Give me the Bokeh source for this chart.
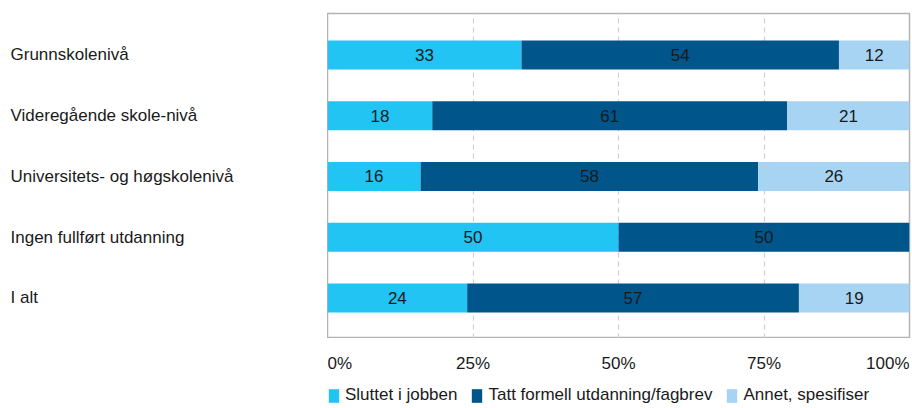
from bokeh.plotting import figure
from bokeh.models import ColumnDataSource, Range1d, Legend, LegendItem, Spacer, FixedTicker, Grid
from bokeh.layouts import column, row
from bokeh.embed import file_html
from bokeh.resources import INLINE
from bokeh.core.properties import value

categories = ["Grunnskolenivå", "Videregående skole-nivå", "Universitets- og høgskolenivå",
              "Ingen fullført utdanning", "I alt"]
series_names = ["Sluttet i jobben", "Tatt formell utdanning/fagbrev", "Annet, spesifiser"]
sluttet = [33, 18, 16, 50, 24]
tatt = [54, 61, 58, 50, 57]
annet = [12, 21, 26, 0, 19]
colors = ["#21C4F3", "#00558A", "#A8D4F4"]
tick_values = [0, 25, 50, 75, 100]
tick_labels = ["0%", "25%", "50%", "75%", "100%"]
tick_align = ["left", "center", "center", "center", "right"]

FONT = "Liberation Sans"
FS = "17px"
TXT = "#1a1a1a"

n = len(categories)
ypos = [n - 1 - i for i in range(n)]
series = [sluttet, tatt, annet]
totals = [sum(s[i] for s in series) for i in range(n)]

y_range = Range1d(-0.667, 4.683)
x_range = Range1d(0, 100)

p = figure(width=585, height=338, x_range=x_range, y_range=y_range,
           output_backend="svg", toolbar_location=None,
           x_axis_location=None, y_axis_location=None,
           min_border_left=0, min_border_right=3, min_border_top=13, min_border_bottom=0)
p.center = []
p.add_layout(Grid(dimension=0, ticker=FixedTicker(ticks=[25, 50, 75]),
                  grid_line_color="#d0d0d0", grid_line_dash="5 4", grid_line_width=1.2))
p.outline_line_color = "#b3b3b3"
p.outline_line_width = 1.5
p.background_fill_color = "white"
p.border_fill_color = "white"

cum = [0.0] * n
for s, c, name in zip(series, colors, series_names):
    left = [cum[i] for i in range(n)]
    right = [cum[i] + s[i] / totals[i] * 100 for i in range(n)]
    cum = right
    src = ColumnDataSource(dict(y=ypos, left=left, right=right))
    p.hbar(y="y", left="left", right="right", height=0.48, source=src,
           fill_color=c, line_color=None)
    idx = [i for i in range(n) if s[i] > 0]
    lsrc = ColumnDataSource(dict(
        x=[(left[i] + right[i]) / 2 for i in idx],
        y=[ypos[i] for i in idx],
        t=[str(s[i]) for i in idx]))
    p.text(x="x", y="y", text="t", source=lsrc, text_align="center",
           text_baseline="middle", text_font=value(FONT), text_font_size=FS,
           text_color=TXT)

# left category labels
lf = figure(width=327, height=338, x_range=Range1d(0, 327), y_range=y_range,
            output_backend="svg", toolbar_location=None,
            x_axis_location=None, y_axis_location=None,
            min_border_left=0, min_border_right=0, min_border_top=13, min_border_bottom=0)
lf.center = []
lf.outline_line_color = None
csrc = ColumnDataSource(dict(x=[0] * n, y=ypos, t=categories))
lf.text(x="x", y="y", text="t", source=csrc, x_offset=10, text_align="left",
        text_baseline="middle", text_font=value(FONT), text_font_size=FS, text_color=TXT)

# bottom: tick labels and legend
bf = figure(width=585, height=70, x_range=x_range, y_range=Range1d(70, 0),
            output_backend="svg", toolbar_location=None,
            x_axis_location=None, y_axis_location=None,
            min_border_left=0, min_border_right=3, min_border_top=0, min_border_bottom=0)
bf.center = []
bf.outline_line_color = None
tsrc = ColumnDataSource(dict(x=tick_values, y=[25] * len(tick_values), t=tick_labels, a=tick_align))
bf.text(x="x", y="y", text="t", source=tsrc, text_align="a", text_baseline="middle",
        text_font=value(FONT), text_font_size=FS, text_color=TXT)

nan = float("nan")
items = []
for c, name in zip(colors, series_names):
    r = bf.hbar(y=[nan], left=[nan], right=[nan], height=1, fill_color=c, line_color=None)
    items.append(LegendItem(label=name, renderers=[r]))
legend = Legend(items=items, orientation="horizontal", location=(0, 3),
                glyph_width=13, glyph_height=17, label_height=17, label_standoff=5,
                spacing=13, padding=0, margin=0, border_line_color=None,
                background_fill_alpha=0, label_text_font=FONT,
                label_text_font_size=FS, label_text_color=TXT)
bf.add_layout(legend)

layout = column(row(lf, p), row(Spacer(width=327, height=70), bf))
open("out.html", "w").write(file_html(layout, INLINE))
